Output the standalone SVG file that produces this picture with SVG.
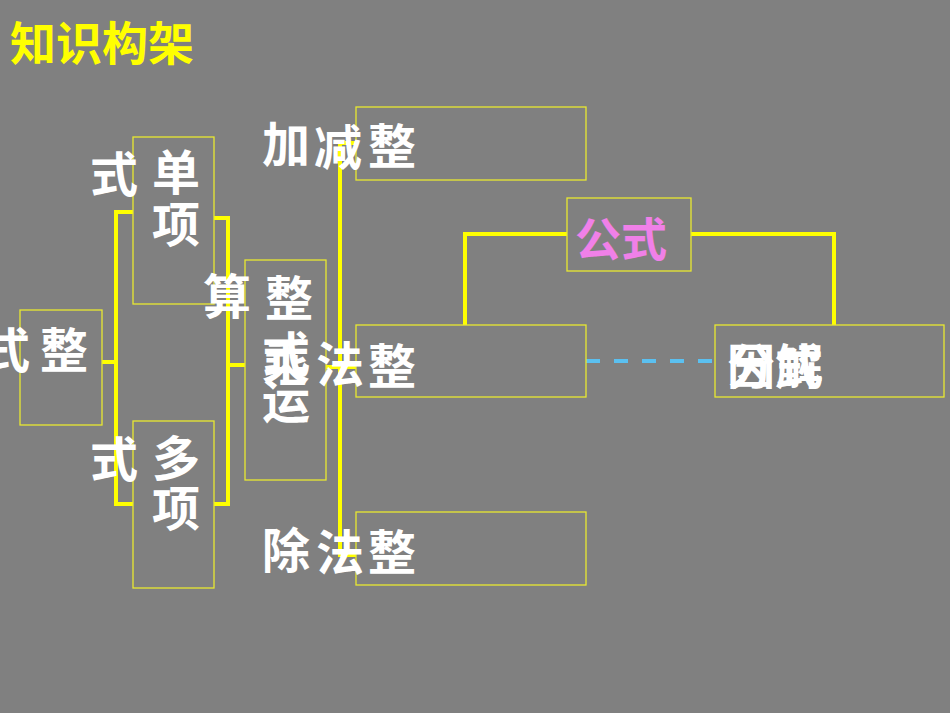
<svg xmlns="http://www.w3.org/2000/svg" width="950" height="713" viewBox="0 0 950 713">
<style>
.b{fill:none;stroke:#e8e830;stroke-width:1.3}
.t{font-family:"Liberation Sans","Noto Sans CJK SC",sans-serif;font-size:48px;fill:#fff;font-weight:bold}
.c{fill:none;stroke:#ffff00;stroke-width:4}
</style>
<rect width="950" height="713" fill="#808080"/>
<text x="10" y="60" style="font-family:'Liberation Sans','Noto Sans CJK SC',sans-serif;font-size:46px;font-weight:bold;fill:#ffff00">知识构架</text>
<g id="connectors">
<path class="c" d="M133 212H116V504H133M102 362H116"/>
<path class="c" d="M214 218H228V504H214M228 365H245"/>
<path class="c" d="M356 143H340V555H356M326 367H356"/>
<path class="c" d="M465 325V234H567M691 234H834V325"/>
<path d="M586 361H715" stroke="#5bc0f0" stroke-width="4" stroke-dasharray="14 14" fill="none"/>
</g>
<g id="zhengshi"><rect class="b" x="20" y="310" width="82" height="115"/><text class="t" x="-18" y="368">式</text><text class="t" x="40" y="368">整</text></g>
<g id="danxiang"><rect class="b" x="133" y="137" width="81" height="167"/><text class="t" x="90" y="192">式</text><text class="t" x="152" y="190">单</text><text class="t" x="152" y="242">项</text></g>
<g id="duoxiang"><rect class="b" x="133" y="421" width="81" height="167"/><text class="t" x="90" y="477">式</text><text class="t" x="152" y="476">多</text><text class="t" x="152" y="526">项</text></g>
<g id="yunsuan"><rect class="b" x="245" y="260" width="81" height="220"/><text class="t" x="203" y="314">算</text><text class="t" x="265" y="316">整</text><text class="t" x="262" y="372">式</text><text class="t" x="262" y="380">乘</text><text class="t" x="262" y="418">运</text></g>
<g id="jiajian"><rect class="b" x="356" y="107" width="230" height="73"/><text class="t" x="262" y="162">加</text><text class="t" x="314" y="165">减</text><text class="t" x="368" y="164">整</text></g>
<g id="chengfa"><rect class="b" x="356" y="325" width="230" height="72"/><text class="t" x="316" y="382">法</text><text class="t" x="368" y="384">整</text></g>
<g id="chufa"><rect class="b" x="356" y="512" width="230" height="73"/><text class="t" x="262" y="568">除</text><text class="t" x="316" y="570">法</text><text class="t" x="368" y="570">整</text></g>
<g id="gongshi"><rect class="b" x="567" y="198" width="124" height="73"/><text x="575" y="256" style="font-family:'Liberation Sans','Noto Sans CJK SC',sans-serif;font-size:46px;font-weight:bold;fill:#f080e8">公式</text></g>
<g id="yinshi"><rect class="b" x="715" y="325" width="229" height="72"/><text class="t" x="727" y="384">因解</text><text class="t" x="727" y="384">分式</text></g>
</svg>
